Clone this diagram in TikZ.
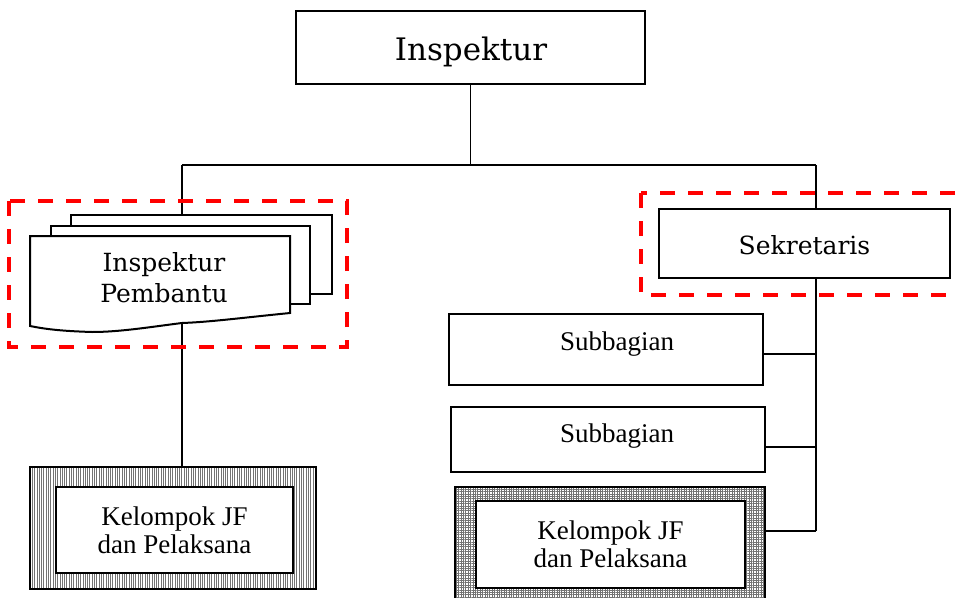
\documentclass[tikz,border=0pt]{standalone}
\usepackage{fontspec}
\setmainfont{Liberation Serif}
\newfontfamily\bookfont{DejaVu Serif}
\usetikzlibrary{patterns.meta}

\begin{document}
\begin{tikzpicture}[x=1pt,y=-1pt,
  box/.style={draw=black,line width=2.4pt,fill=white,inner sep=0pt},
  thinbox/.style={draw=black,line width=1.4pt,fill=white,inner sep=0pt},
  link/.style={draw=black,line width=1.1pt},
  docpage/.style={draw=black,line width=2pt,fill=white,line join=miter},
  unitframe/.style={draw=red,line width=4pt,dash pattern=on 15pt off 13pt},
  vhatch/.style={draw=black,line width=2.6pt,pattern color=black!55,
    pattern={Lines[angle=90,distance=2.3pt,line width=0.45pt]}},
  ghatch/.style={draw=black,line width=2.6pt,pattern color=black!55,
    pattern={Hatch[angle=0,distance=2.4pt,line width=0.4pt]}},
  headtext/.style={font=\bookfont\fontsize{25}{31}\selectfont},
  unittext/.style={font=\fontsize{27}{28}\selectfont,align=center}]
\useasboundingbox (0,0) rectangle (958,597);

% junction points of the tree
\coordinate (hubL) at (182,165);
\coordinate (hubR) at (816,165);
\coordinate (spineEnd) at (816,531);

% head of the office
\node[box,minimum width=349pt,minimum height=73pt] (insp) at (470.5,47.5) {};
\node[font=\bookfont\fontsize{31}{34}\selectfont] (inspt) at (471,52) {Inspektur};

% left branch line (runs behind the stacked pages)
\draw[link] (hubL) -- (hubL |- 0,467);

% stacked pages for the assistant inspectors
\path[docpage] (71,215) coordinate (p3) -- (332,215) -- (332,294) -- (300,294) -- (300,226) -- (71,226) -- cycle;
\path[docpage] (51,226) coordinate (p2) -- (310,226) -- (310,304) -- (290,304) -- (290,236) -- (51,236) -- cycle;
\path[docpage] (30,236) coordinate (p1) -- (290,236) -- (290,313)
  .. controls (240,318) and (210,322) .. (182,323)
  .. controls (150,327) and (120,332) .. (92,332)
  .. controls (60,331) and (45,329) .. (30,326) -- cycle;
\node[headtext,align=center] (ipb) at (164,278) {Inspektur\\Pembantu};

% secretary
\node[box,minimum width=291pt,minimum height=69pt,line width=2pt] (sek) at (804.5,243.5) {};
\node[headtext] (sekt) at (804.5,245) {Sekretaris};

% sub-sections
\node[box,minimum width=314pt,minimum height=71pt] (sub1) at (606,349.5) {};
\node[unittext] (sub1t) at (617,344) {Subbagian};
\node[box,minimum width=314pt,minimum height=65pt] (sub2) at (608,439.5) {};
\node[unittext] (sub2t) at (617,436) {Subbagian};

% functional groups
\node[vhatch,minimum width=286pt,minimum height=122pt] (kjfL) at (173,528) {};
\node[thinbox,minimum width=237pt,minimum height=86pt,unittext] (kjfLin) at (174.5,530) {Kelompok JF\\dan Pelaksana};
\node[ghatch,minimum width=310pt,minimum height=126pt] (kjfR) at (610,550) {};
\node[thinbox,minimum width=269pt,minimum height=87pt,unittext] (kjfRin) at (610.5,544.5) {Kelompok JF\\dan Pelaksana};

% connectors
\draw[link] (insp.south) -- (insp.south |- hubL);
\draw[link] (hubL) -- (hubR);
\draw[link] (hubR) -- (hubR |- sek.north);
\draw[link] (hubR |- sek.south) -- (spineEnd);
\draw[link] ([yshift=-4.5pt]sub1.east) -- ([yshift=-4.5pt]sub1.east -| spineEnd);
\draw[link] ([yshift=-7.5pt]sub2.east) -- ([yshift=-7.5pt]sub2.east -| spineEnd);
\draw[link] (spineEnd) -- (spineEnd -| kjfR.east);

% dashed frames around the restructured units
\draw[unitframe] (9,201) rectangle (347,347);
\draw[unitframe] (641,193) rectangle (990,295);
\end{tikzpicture}
\end{document}
